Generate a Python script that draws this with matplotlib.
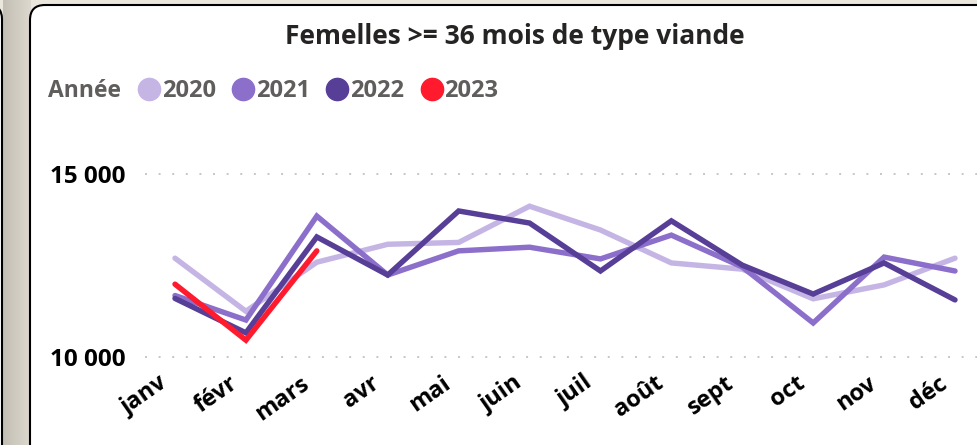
import numpy as np
import matplotlib
matplotlib.use('Agg')
import matplotlib.pyplot as plt
import matplotlib.transforms as mtransforms
from matplotlib.patches import FancyBboxPatch
from matplotlib.lines import Line2D

plt.rcParams['font.family'] = ['Open Sans', 'DejaVu Sans']

months = ['janv', 'févr', 'mars', 'avr', 'mai', 'juin', 'juil', 'août', 'sept', 'oct', 'nov', 'déc']
years = ['2020', '2021', '2022', '2023']
colors = ['#C5B5E4', '#8C6FCB', '#573E97', '#FF1A2E']

v2020 = [12700, 11250, 12590, 13080, 13130, 14120, 13470, 12570, 12400, 11590, 11970, 12700]
v2021 = [11680, 11010, 13850, 12240, 12900, 13000, 12680, 13330, 12460, 10930, 12730, 12350]
v2022 = [11600, 10660, 13280, 12240, 13990, 13660, 12350, 13720, 12510, 11720, 12570, 11560]
v2023 = [11990, 10460, 12900]
series = [v2020, v2021, v2022, v2023]

W, H = 977, 445
fig = plt.figure(figsize=(W / 100, H / 100), dpi=100)
fig.patch.set_facecolor('#ECE7DC')

# shadow strip left of the panel
grad = np.linspace(0, 1, 28)
strip = np.zeros((H, 28, 3))
c0 = np.array([0xC4, 0xBF, 0xB5]) / 255
c1 = np.array([0xDD, 0xD8, 0xCD]) / 255
for i, g in enumerate(grad):
    strip[:, i, :] = c0 * (1 - g) + c1 * g
fig.figimage(strip, xo=3, yo=0, zorder=0)

# neighbouring panel edge on the far left
fig.patches.append(FancyBboxPatch((-200, -50), 202, H - 5 + 50,
                                  boxstyle='round,pad=0,rounding_size=14',
                                  fc='white', ec='black', lw=1.5, transform=None, zorder=1))
# main panel
fig.patches.append(FancyBboxPatch((30, -50), 1100, H - 5 + 50,
                                  boxstyle='round,pad=0,rounding_size=15',
                                  fc='white', ec='black', lw=1.5, transform=None, zorder=1))

# axes placed so 10 000 -> y=357px and 15 000 -> y=174px
ax = fig.add_axes([145 / W, 75 / H, 832 / W, 230 / H])
ax.set_zorder(3)
ax.set_facecolor('none')
ppy = 5000 / 183
ax.set_ylim(10000 - 13 * ppy, 15000 + 34 * ppy)
ppx = 1 / 70.9
ax.set_xlim(-30 * ppx, 11 + 22 * ppx)

x = np.arange(len(months))
for vals, col in zip(series, colors):
    ax.plot(x[:len(vals)], vals, color=col, lw=3.9, solid_capstyle='round',
            solid_joinstyle='miter', zorder=3)

ax.set_yticks([10000, 15000])
ax.set_yticklabels(['10 000', '15 000'], fontsize=17.5, fontweight='bold', color='black')
ax.set_xticks(x)
ax.set_xticklabels(months, fontsize=17, fontweight='bold', color='black',
                   rotation=35, ha='right', rotation_mode='anchor')
ax.tick_params(length=0)
ax.tick_params(axis='x', pad=1)
ax.tick_params(axis='y', pad=14)
shift = mtransforms.ScaledTranslation(-17 / 100, 0, fig.dpi_scale_trans)
for lab in ax.get_xticklabels():
    lab.set_transform(lab.get_transform() + shift)
ax.grid(axis='y', color='#C8C6C4', lw=1.4, linestyle=(0, (1, 6)))
ax.set_axisbelow(True)
for s in ax.spines.values():
    s.set_visible(False)

fig.text(515 / W, 1 - 36 / H, 'Femelles >= 36 mois de type viande', ha='center', va='center',
         fontsize=19, fontweight='bold', color='#252423', zorder=4)

fig.text(48 / W, 1 - 91 / H, 'Année', ha='left', va='center', fontsize=16.5,
         fontweight='bold', color='#605E5C', zorder=4)
handles = [Line2D([], [], ls='none', marker='o', ms=16, mfc=c, mec=c) for c in colors]
leg = fig.legend(handles, years, loc='center left', bbox_to_anchor=(123 / W, 1 - 91 / H),
                 ncol=4, frameon=False, handletextpad=-0.05, columnspacing=0.55, handlelength=1.2,
                 prop={'size': 17, 'weight': 'bold'}, labelcolor='#605E5C', borderpad=0)
leg.set_zorder(4)

fig.savefig('out.png', dpi=100, facecolor=fig.get_facecolor())
